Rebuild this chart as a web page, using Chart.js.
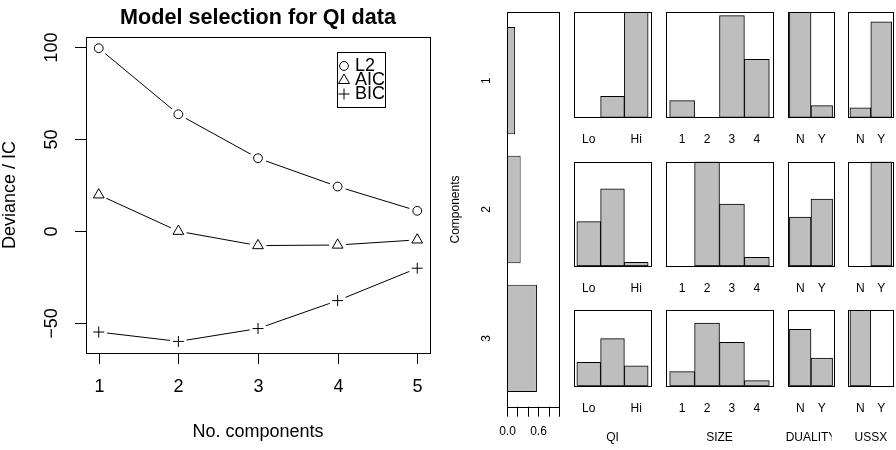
<!DOCTYPE html>
<html>
<head>
<meta charset="utf-8">
<script src="https://cdn.jsdelivr.net/npm/chart.js@4.4.1/dist/chart.umd.min.js"></script>
<style>
  html, body { margin: 0; padding: 0; background: #fff; }
  #wrap { position: relative; width: 896px; height: 450px; overflow: hidden; background: #fff; }
  #wrap canvas { position: absolute; left: 0; top: 0; }
</style>
</head>
<body>
<div id="wrap"></div>
<script>
const W = 896, H = 450;
const FONT = '"Liberation Sans", Arial, Helvetica, sans-serif';

// model selection
const nComponents = [1, 2, 3, 4, 5];
const l2Values = [99.3, 63.4, 39.5, 24.1, 10.9];
const aicValues = [19.6, -0.2, -8.0, -7.7, -4.9];
const bicValues = [-55.0, -60.1, -53.1, -37.9, -20.3];
const devTicks = [-50, 0, 50, 100];

// class sizes of the 3 component model
const classLabels = ['1', '2', '3'];
const classSizes = [0.16, 0.265, 0.575];
const sizeTicks = [0, 0.2, 0.4, 0.6, 0.8, 1.0];
const sizeTickLabels = ['0.0', '', '', '0.6', '', ''];

// item profiles, one row per component
const variables = ['QI', 'SIZE', 'DUALITY', 'USSX'];
const qiLevels = ['Lo', '', 'Hi'];
const sizeLevels = ['1', '2', '3', '4'];
const dualityLevels = ['N', 'Y'];
const ussxLevels = ['N', 'Y'];
const qiProbs = [[0, 0.2, 1.0], [0.425, 0.741, 0.035], [0.308, 0.621, 0.264]];
const sizeProbs = [[0.159, 0, 0.968, 0.552], [0, 1.0, 0.594, 0.083], [0.185, 0.828, 0.573, 0.066]];
const dualityProbs = [[1.0, 0.111], [0.47, 0.642], [0.744, 0.366]];
const ussxProbs = [[0.091, 0.91], [0, 1.0], [1.0, 0]];

// panel boxes (pixels)
const rowBoxes = [[12.3, 117.3], [161.7, 266], [310, 385.7]];
const colBoxes = [[574, 651], [665.7, 773.3], [787.7, 834.3], [848.3, 893.3]];
const levelLabelY = [140, 288.3, 408.3];

function addCanvas() {
  const c = document.createElement('canvas');
  c.width = W; c.height = H;
  c.style.width = W + 'px'; c.style.height = H + 'px';
  document.getElementById('wrap').appendChild(c);
  return c;
}

function boxPadding(x0, y0, x1, y1) {
  return { left: x0, top: y0, right: W - x1, bottom: H - y1 };
}

function pt(xs, ys) {
  return xs.map((v, i) => ({ x: v, y: ys[i] }));
}

function strokeBox(ctx, a) {
  ctx.strokeRect(Math.round(a.left) + 0.5, Math.round(a.top) + 0.5,
    Math.round(a.right) - Math.round(a.left), Math.round(a.bottom) - Math.round(a.top));
}

function marker(ctx, style, x, y) {
  ctx.beginPath();
  if (style === 'circle') {
    ctx.arc(x, y, 4.4, 0, Math.PI * 2);
  } else if (style === 'triangle') {
    ctx.moveTo(x, y - 6); ctx.lineTo(x + 5.5, y + 3.5); ctx.lineTo(x - 5.5, y + 3.5); ctx.closePath();
  } else {
    ctx.moveTo(x - 5.5, y); ctx.lineTo(x + 5.5, y);
    ctx.moveTo(x, y - 5.5); ctx.lineTo(x, y + 5.5);
  }
  ctx.stroke();
}

// ticks only at the bar centres, so bar width = one unit
function centreTicks(centres) {
  return scale => { scale.ticks = centres.map(v => ({ value: v })); };
}

// ---------- left: model selection ----------
const modelDecor = {
  id: 'modelDecor',
  afterDraw(chart) {
    const { ctx, chartArea: a, scales: { x, y } } = chart;
    ctx.save();
    ctx.strokeStyle = '#000'; ctx.fillStyle = '#000'; ctx.lineWidth = 1;
    strokeBox(ctx, a);
    ctx.font = '18px ' + FONT;
    ctx.textAlign = 'center'; ctx.textBaseline = 'middle';
    nComponents.forEach(v => {
      const px = Math.round(x.getPixelForValue(v)) + 0.5;
      ctx.beginPath(); ctx.moveTo(px, a.bottom); ctx.lineTo(px, a.bottom + 11); ctx.stroke();
      ctx.fillText(String(v), px, 387);
    });
    devTicks.forEach(v => {
      const py = Math.round(y.getPixelForValue(v)) + 0.5;
      ctx.beginPath(); ctx.moveTo(a.left, py); ctx.lineTo(a.left - 11, py); ctx.stroke();
      ctx.save(); ctx.translate(52, py); ctx.rotate(-Math.PI / 2);
      ctx.fillText(v < 0 ? '\u2212' + Math.abs(v) : String(v), 0, 0);
      ctx.restore();
    });
    ctx.fillText('No. components', (a.left + a.right) / 2, 432);
    ctx.save(); ctx.translate(10, (a.top + a.bottom) / 2); ctx.rotate(-Math.PI / 2);
    ctx.fillText('Deviance / IC', 0, 0);
    ctx.restore();
    ctx.font = 'bold 21.6px ' + FONT;
    ctx.fillText('Model selection for QI data', (a.left + a.right) / 2, 18);

    // legend
    ctx.strokeRect(337.5, 52.5, 48, 55);
    ctx.font = '18px ' + FONT;
    ctx.textAlign = 'left';
    [['circle', 'L2'], ['triangle', 'AIC'], ['cross', 'BIC']].forEach((e, i) => {
      const ly = 66 + i * 14;
      marker(ctx, e[0], 344, ly);
      ctx.fillText(e[1], 355, ly);
    });
    ctx.restore();
  }
};

const series = [
  { values: l2Values, style: 'circle', radius: 4.4 },
  { values: aicValues, style: 'triangle', radius: 6.2 },
  { values: bicValues, style: 'cross', radius: 5.5 }
];
const modelSets = [];
series.forEach(s => {
  modelSets.push({ data: pt(nComponents, s.values), showLine: true, borderColor: '#000', borderWidth: 1,
    pointRadius: 0, order: 3 });
  modelSets.push({ data: pt(nComponents, s.values), showLine: false, pointRadius: 8.5,
    pointBackgroundColor: '#fff', pointBorderColor: '#fff', pointBorderWidth: 0, order: 2 });
  modelSets.push({ data: pt(nComponents, s.values), showLine: false,
    pointStyle: s.style, pointRadius: s.radius,
    pointBackgroundColor: 'rgba(0,0,0,0)', pointBorderColor: '#000', pointBorderWidth: 1, order: 1 });
});

new Chart(addCanvas(), {
  type: 'line',
  data: { datasets: modelSets },
  options: {
    responsive: false, animation: false, events: [],
    layout: { padding: boxPadding(86, 37, 430, 353) },
    plugins: { legend: { display: false }, tooltip: { enabled: false } },
    scales: {
      x: { type: 'linear', display: false, min: 0.84, max: 5.16 },
      y: { type: 'linear', display: false, min: -66.4, max: 105.4 }
    }
  },
  plugins: [modelDecor]
});

// ---------- class sizes ----------
const classCentres = classLabels.map((l, i) => 1.2 * (i + 1) - 0.5);

const classDecor = {
  id: 'classDecor',
  afterDraw(chart) {
    const { ctx, chartArea: a, scales: { x, y } } = chart;
    ctx.save();
    ctx.strokeStyle = '#000'; ctx.fillStyle = '#000'; ctx.lineWidth = 1;
    strokeBox(ctx, a);
    ctx.font = '12px ' + FONT;
    ctx.textAlign = 'center'; ctx.textBaseline = 'middle';
    sizeTicks.forEach((v, i) => {
      const px = Math.round(x.getPixelForValue(v)) + 0.5;
      ctx.beginPath(); ctx.moveTo(px, a.bottom); ctx.lineTo(px, a.bottom + 10); ctx.stroke();
      if (sizeTickLabels[i]) ctx.fillText(sizeTickLabels[i], px, 432);
    });
    classLabels.forEach((l, i) => {
      const py = y.getPixelForValue(classCentres[i]);
      ctx.save(); ctx.translate(487, py); ctx.rotate(-Math.PI / 2);
      ctx.fillText(l, 0, 0); ctx.restore();
    });
    ctx.save(); ctx.translate(456, (a.top + a.bottom) / 2); ctx.rotate(-Math.PI / 2);
    ctx.fillText('Components', 0, 0); ctx.restore();
    ctx.restore();
  }
};

new Chart(addCanvas(), {
  type: 'bar',
  data: {
    datasets: [{
      data: classSizes.map((v, i) => ({ y: classCentres[i], x: v })),
      backgroundColor: '#bebebe', borderColor: '#000', borderWidth: 1, borderSkipped: false,
      barPercentage: 1 / 1.2, categoryPercentage: 1
    }]
  },
  options: {
    indexAxis: 'y',
    responsive: false, animation: false, events: [],
    layout: { padding: boxPadding(506.7, 12.3, 559.3, 406.7) },
    plugins: { legend: { display: false }, tooltip: { enabled: false } },
    scales: {
      x: { type: 'linear', display: false, min: 0, max: 1, offset: false },
      y: { type: 'linear', display: false, min: 0.064, max: 3.736, reverse: true, offset: false,
        afterBuildTicks: centreTicks(classCentres) }
    }
  },
  plugins: [classDecor]
});

// ---------- item profiles ----------
function profilePanel(levels, probs, row, col) {
  const n = levels.length;
  const centres = levels.map((l, i) => i + 0.5);
  const [x0, x1] = colBoxes[col];
  const [y0, y1] = rowBoxes[row];
  const decor = {
    id: 'panelDecor',
    afterDraw(chart) {
      const { ctx, chartArea: a, scales: { x } } = chart;
      ctx.save();
      ctx.strokeStyle = '#000'; ctx.fillStyle = '#000'; ctx.lineWidth = 1;
      strokeBox(ctx, a);
      ctx.beginPath(); ctx.rect(x0 - 20, 0, x1 - x0 + 17.5, H); ctx.clip();
      ctx.font = '12px ' + FONT;
      ctx.textAlign = 'center'; ctx.textBaseline = 'middle';
      levels.forEach((l, i) => {
        if (l) ctx.fillText(l, x.getPixelForValue(centres[i]), levelLabelY[row]);
      });
      if (row === rowBoxes.length - 1) ctx.fillText(variables[col], (x0 + x1) / 2, 437.7);
      ctx.restore();
    }
  };
  new Chart(addCanvas(), {
    type: 'bar',
    data: {
      datasets: [{
        data: probs.map((p, i) => ({ x: centres[i], y: p })),
        backgroundColor: '#bebebe', borderColor: '#000', borderWidth: 1, borderSkipped: false,
        barPercentage: 1, categoryPercentage: 1
      }]
    },
    options: {
      responsive: false, animation: false, events: [],
      layout: { padding: boxPadding(x0, y0, x1, y1) },
      plugins: { legend: { display: false }, tooltip: { enabled: false } },
      scales: {
        x: { type: 'linear', display: false, min: -0.04 * n, max: n * 1.04, offset: false,
          afterBuildTicks: centreTicks(centres) },
        y: { type: 'linear', display: false, min: 0, max: 1 }
      }
    },
    plugins: [decor]
  });
}

[qiProbs, sizeProbs, dualityProbs, ussxProbs].forEach((probs, col) => {
  const levels = [qiLevels, sizeLevels, dualityLevels, ussxLevels][col];
  probs.forEach((p, row) => profilePanel(levels, p, row, col));
});
</script>
</body>
</html>
